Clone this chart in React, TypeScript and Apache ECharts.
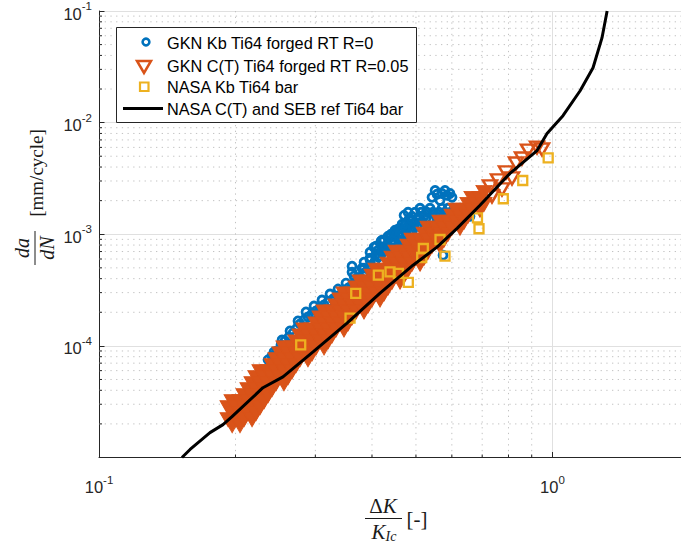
import React, { useEffect, useRef } from "react";
import * as echarts from "echarts";

const X_MIN = 0.1;
const X_MAX = 1.921;
const Y_MIN = 1e-5;
const Y_MAX = 1e-1;

const xTickLabelValues = [0.1, 1];
const yTickLabelValues = [1e-4, 1e-3, 1e-2, 1e-1];
const xMinorTicks = [0.2, 0.3, 0.4, 0.5, 0.6, 0.7, 0.8, 0.9];
const yMinorTicks = [
  2e-5, 3e-5, 4e-5, 5e-5, 6e-5, 7e-5, 8e-5, 9e-5,
  2e-4, 3e-4, 4e-4, 5e-4, 6e-4, 7e-4, 8e-4, 9e-4,
  2e-3, 3e-3, 4e-3, 5e-3, 6e-3, 7e-3, 8e-3, 9e-3,
  2e-2, 3e-2, 4e-2, 5e-2, 6e-2, 7e-2, 8e-2, 9e-2,
];

const legendLabels = [
  "GKN Kb Ti64 forged RT R=0",
  "GKN C(T) Ti64 forged RT R=0.05",
  "NASA Kb Ti64 bar",
  "NASA C(T) and SEB ref Ti64 bar",
];

// GKN Kb Ti64 forged RT R=0  [dK/KIc, da/dN]
const gknKb: number[][] = [
  [0.2359, 7.499e-5], [0.2407, 8.142e-5], [0.2469, 9.023e-5],
  [0.2520, 1.021e-4], [0.2571, 1.108e-4], [0.2624, 1.203e-4], [0.2679, 1.306e-4],
  [0.2734, 1.448e-4], [0.2775, 1.572e-4], [0.2832, 1.707e-4], [0.2890, 1.815e-4],
  [0.2950, 1.931e-4], [0.3010, 2.053e-4], [0.3072, 2.184e-4], [0.3135, 2.323e-4],
  [0.3199, 2.471e-4], [0.3282, 2.628e-4], [0.3366, 2.795e-4], [0.3452, 3.035e-4],
  [0.3541, 3.295e-4], [0.3615, 3.505e-4], [0.3689, 3.805e-4], [0.3764, 4.132e-4],
  [0.3841, 4.486e-4], [0.3920, 4.870e-4], [0.3980, 5.288e-4], [0.4062, 5.741e-4],
  [0.4124, 6.233e-4], [0.4209, 6.767e-4], [0.4296, 7.197e-4], [0.4384, 7.655e-4],
  [0.4474, 8.311e-4], [0.4566, 9.023e-4], [0.4659, 9.600e-4], [0.4755, 1.021e-3],
  [0.4852, 1.086e-3], [0.4951, 1.155e-3], [0.5053, 1.229e-3], [0.5157, 1.307e-3],
  [0.5263, 1.390e-3],
  [0.2432, 8.839e-5], [0.2533, 1.131e-4], [0.2638, 1.361e-4], [0.2747, 1.672e-4],
  [0.2861, 2.012e-4], [0.2980, 2.276e-4], [0.3103, 2.575e-4], [0.3232, 2.913e-4],
  [0.3366, 3.228e-4], [0.3505, 3.652e-4], [0.3651, 4.217e-4], [0.3802, 4.972e-4],
  [0.3960, 5.860e-4], [0.4124, 7.197e-4],
  [0.4041, 7.655e-4], [0.4188, 8.660e-4], [0.4340, 9.600e-4], [0.4497, 1.086e-3],
  [0.4659, 1.229e-3], [0.4827, 1.362e-3],
  [0.4252, 8.840e-4], [0.4406, 1.000e-3], [0.4566, 1.108e-3], [0.4731, 1.229e-3],
  [0.4167, 6.362e-4], [0.4384, 6.907e-4], [0.4612, 7.813e-4], [0.4852, 8.840e-4],
  [0.5053, 1.000e-3],
  [0.3614, 5.180e-4], [0.3614, 4.579e-4], [0.3841, 5.624e-4], [0.3841, 4.972e-4],
  [0.3960, 6.907e-4], [0.3960, 6.105e-4], [0.4082, 7.813e-4], [0.4082, 6.629e-4],
  [0.4209, 8.840e-4], [0.4209, 7.197e-4], [0.4340, 9.211e-4], [0.4340, 7.197e-4],
  [0.4474, 1.042e-3], [0.4474, 8.142e-4], [0.4612, 1.131e-3], [0.4612, 8.840e-4],
  [0.4755, 1.229e-3], [0.4755, 9.600e-4], [0.4902, 1.334e-3], [0.4902, 1.042e-3],
  [0.5053, 1.390e-3],
  [0.4612, 1.042e-3], [0.4731, 1.131e-3], [0.4977, 1.280e-3], [0.4429, 8.840e-4],
  [0.4274, 7.813e-4],
  [0.4707, 1.478e-3], [0.4804, 1.574e-3],
  [0.4977, 1.574e-3], [0.5131, 1.574e-3], [0.5290, 1.574e-3], [0.5453, 1.574e-3],
  [0.5621, 1.574e-3], [0.5795, 1.574e-3], [0.5974, 1.574e-3], [0.6159, 1.574e-3],
  [0.6350, 1.574e-3], [0.6513, 1.542e-3],
  [0.4902, 1.448e-3], [0.5210, 1.448e-3], [0.5538, 1.448e-3], [0.5885, 1.448e-3],
  [0.6254, 1.448e-3], [0.6580, 1.448e-3],
  [0.5105, 1.709e-3], [0.5370, 1.709e-3], [0.5708, 1.709e-3], [0.5884, 1.709e-3],
  [0.6066, 1.709e-3], [0.6254, 1.709e-3], [0.6446, 1.709e-3],
  [0.5425, 2.14e-3], [0.5564, 2.28e-3], [0.5708, 2.32e-3], [0.5855, 2.23e-3],
  [0.6005, 2.14e-3], [0.5650, 2.01e-3], [0.5510, 2.471e-3], [0.5795, 2.471e-3],
  [0.5944, 2.32e-3],
  [0.5737, 6.50e-4], [0.5564, 1.334e-3], [0.5795, 1.276e-3], [0.4612, 8.31e-4],
  [0.4803, 8.84e-4], [0.4429, 7.20e-4], [0.3861, 2.319e-4], [0.4000, 2.678e-4],
];

// GKN C(T) Ti64 forged RT R=0.05: dense part, one entry per dK/KIc with its da/dN readings
const gknCTColumns: [number, number[]][] = [
  [0.1926, [2.795e-5, 2.184e-5]],
  [0.1966, [3.162e-5, 2.471e-5, 1.931e-5]],
  [0.2005, [2.795e-5, 2.184e-5]],
  [0.2046, [3.162e-5, 2.471e-5, 1.931e-5]],
  [0.2088, [3.578e-5, 2.795e-5, 2.184e-5]],
  [0.2131, [4.047e-5, 3.162e-5, 2.471e-5]],
  [0.2175, [4.578e-5, 3.578e-5, 2.795e-5, 2.184e-5]],
  [0.2219, [5.179e-5, 4.047e-5, 3.162e-5, 2.471e-5]],
  [0.2265, [5.860e-5, 4.578e-5, 3.578e-5, 2.795e-5]],
  [0.2312, [5.179e-5, 4.047e-5, 3.162e-5]],
  [0.2359, [5.860e-5, 4.578e-5, 3.578e-5]],
  [0.2407, [6.629e-5, 5.179e-5, 4.047e-5]],
  [0.2457, [7.499e-5, 5.860e-5, 4.578e-5]],
  [0.2507, [8.483e-5, 6.629e-5, 5.179e-5]],
  [0.2558, [9.597e-5, 7.499e-5, 5.860e-5, 4.578e-5]],
  [0.2611, [8.483e-5, 6.629e-5, 5.179e-5]],
  [0.2665, [9.597e-5, 7.499e-5, 5.860e-5]],
  [0.2719, [1.086e-4, 8.483e-5, 6.629e-5]],
  [0.2775, [1.228e-4, 9.597e-5, 7.499e-5]],
  [0.2832, [1.389e-4, 1.086e-4, 8.483e-5]],
  [0.2890, [1.228e-4, 9.597e-5, 7.499e-5]],
  [0.2950, [1.389e-4, 1.086e-4, 8.483e-5]],
  [0.3010, [1.572e-4, 1.228e-4, 9.597e-5]],
  [0.3072, [1.778e-4, 1.389e-4, 1.086e-4]],
  [0.3135, [2.012e-4, 1.572e-4, 1.228e-4, 9.597e-5]],
  [0.3199, [1.778e-4, 1.389e-4, 1.086e-4]],
  [0.3265, [2.012e-4, 1.572e-4, 1.228e-4]],
  [0.3332, [2.276e-4, 1.778e-4, 1.389e-4]],
  [0.3400, [2.575e-4, 2.012e-4, 1.572e-4]],
  [0.3470, [2.913e-4, 2.276e-4, 1.778e-4, 1.389e-4]],
  [0.3541, [2.575e-4, 2.012e-4, 1.572e-4]],
  [0.3614, [2.913e-4, 2.276e-4, 1.778e-4]],
  [0.3689, [3.295e-4, 2.575e-4, 2.012e-4]],
  [0.3764, [3.728e-4, 2.913e-4, 2.276e-4]],
  [0.3841, [3.295e-4, 2.575e-4, 2.012e-4]],
  [0.3920, [3.728e-4, 2.913e-4, 2.276e-4]],
  [0.4000, [4.217e-4, 3.295e-4, 2.575e-4]],
  [0.4082, [4.771e-4, 3.728e-4, 2.913e-4]],
  [0.4167, [4.217e-4, 3.295e-4, 2.575e-4]],
  [0.4252, [4.771e-4, 3.728e-4, 2.913e-4]],
  [0.4340, [5.397e-4, 4.217e-4, 3.295e-4]],
  [0.4429, [6.105e-4, 4.771e-4, 3.728e-4]],
  [0.4520, [6.907e-4, 5.397e-4, 4.217e-4]],
  [0.4612, [6.105e-4, 4.771e-4, 3.728e-4]],
  [0.4707, [6.907e-4, 5.397e-4, 4.217e-4]],
  [0.4804, [7.813e-4, 6.105e-4, 4.771e-4]],
  [0.4902, [8.840e-4, 6.907e-4, 5.397e-4]],
  [0.5003, [7.813e-4, 6.105e-4]],
  [0.5105, [8.840e-4, 6.907e-4, 5.397e-4]],
  [0.5210, [1.000e-3, 7.813e-4, 6.105e-4]],
  [0.5317, [1.131e-3, 8.840e-4, 6.907e-4]],
  [0.5426, [1.000e-3, 7.813e-4]],
  [0.5538, [1.131e-3, 8.840e-4]],
  [0.5650, [1.280e-3, 1.000e-3, 7.813e-4]],
  [0.5766, [1.131e-3, 8.840e-4]],
  [0.5885, [1.280e-3, 1.000e-3]],
  [0.6005, [1.448e-3, 1.131e-3]],
  [0.6129, [1.638e-3, 1.280e-3]],
  [0.6254, [1.448e-3, 1.131e-3]],
  [0.6383, [1.638e-3, 1.280e-3]],
  [0.6513, [1.853e-3, 1.448e-3]],
  [0.6647, [2.096e-3, 1.638e-3]],
  [0.6783, [1.853e-3]],
  [0.6922, [2.096e-3, 1.638e-3]],
  [0.7064, [2.371e-3, 1.853e-3]],
];

// GKN C(T) upper end, individual markers
const gknCTUpper: number[][] = [
  [0.7283, 2.683e-3], [0.7357, 2.184e-3], [0.7585, 3.035e-3], [0.7740, 2.522e-3],
  [0.7899, 3.578e-3], [0.8144, 3.163e-3], [0.8311, 4.304e-3], [0.8569, 4.771e-3],
  [0.8833, 5.623e-3], [0.9247, 5.982e-3], [0.9485, 5.741e-3],
];

// NASA Kb Ti64 bar
const nasaKb: number[][] = [
  [0.2785, 1.02e-4], [0.3578, 1.77e-4], [0.3683, 2.95e-4], [0.4131, 4.30e-4],
  [0.4384, 4.61e-4], [0.4573, 4.46e-4], [0.4810, 3.71e-4], [0.5191, 7.45e-4],
  [0.5149, 6.19e-4], [0.5650, 8.97e-4], [0.5795, 6.37e-4], [0.6834, 1.40e-3],
  [0.6887, 1.12e-3], [0.7791, 2.08e-3], [0.8600, 3.03e-3], [0.9786, 4.84e-3],
];

// NASA C(T) and SEB reference curve
const nasaRef: number[][] = [
  [0.1524, 1.0e-5], [0.1588, 1.18e-5], [0.1757, 1.67e-5], [0.1877, 1.97e-5],
  [0.1965, 2.32e-5], [0.2299, 4.22e-5], [0.2545, 5.28e-5], [0.2965, 8.83e-5],
  [0.3524, 1.60e-4], [0.4167, 2.97e-4], [0.4927, 5.28e-4], [0.5565, 7.66e-4],
  [0.6162, 1.13e-3], [0.6923, 1.82e-3], [0.8062, 3.51e-3], [0.9248, 5.62e-3],
  [0.9729, 7.98e-3], [1.055, 1.155e-2], [1.151, 1.93e-2], [1.229, 3.10e-2],
  [1.286, 5.74e-2], [1.320, 0.1],
];

const gknCT: number[][] = gknCTColumns.flatMap(([dk, rates]) => rates.map((r) => [dk, r]));

const BLUE = "#0072BD";
const ORANGE = "#D95319";
const YELLOW = "#EDB120";
const AXIS = "#262626";
const TEXT = "#1a1a1a";
const SANS = "'Liberation Sans', Arial, Helvetica, sans-serif";
const SERIF = "'Liberation Serif', 'Times New Roman', serif";

const powLabel = (allowed: number[]) => (v: number) => {
  const hit = allowed.find((a) => Math.abs(Math.log10(a) - Math.log10(v)) < 1e-6);
  if (hit === undefined) return "";
  return `{b|10}{s|${Math.round(Math.log10(hit))}}`;
};

const tickRich = {
  b: { fontSize: 16.5, fontFamily: SANS, color: AXIS, lineHeight: 22, verticalAlign: "bottom" },
  s: { fontSize: 11.5, fontFamily: SANS, color: AXIS, lineHeight: 11, verticalAlign: "top" },
};

export default function App() {
  const ref = useRef<HTMLDivElement>(null);
  useEffect(() => {
    if (!ref.current) return;
    const chart = echarts.init(ref.current, undefined, { renderer: "svg" });
    const option: any = {
      animation: false,
      backgroundColor: "#ffffff",
      grid: { left: 99, top: 10, right: 0, height: 447.5, containLabel: false },
      xAxis: {
        type: "log",
        logBase: 10,
        min: X_MIN,
        max: X_MAX,
        axisLine: { show: true, onZero: false, lineStyle: { color: AXIS, width: 1 } },
        axisTick: { show: true, inside: true, length: 5.5, lineStyle: { color: AXIS, width: 1 } },
        axisLabel: { formatter: powLabel(xTickLabelValues), rich: tickRich, margin: 16, showMaxLabel: false },
        splitLine: { show: true, lineStyle: { color: "#e0e0e0", width: 1 } },
      },
      yAxis: {
        type: "log",
        logBase: 10,
        min: Y_MIN,
        max: Y_MAX,
        splitNumber: 4,
        axisLine: { show: true, onZero: false, lineStyle: { color: AXIS, width: 1 } },
        axisTick: { show: true, inside: true, length: 5.5, lineStyle: { color: AXIS, width: 1 } },
        axisLabel: { formatter: powLabel(yTickLabelValues), rich: tickRich, margin: 7 },
        splitLine: { show: true, lineStyle: { color: "#e0e0e0", width: 1 } },
      },
      series: [
        {
          type: "custom",
          silent: true,
          z: 1,
          data: yMinorTicks.map((v) => [X_MIN, v]),
          renderItem: (params: any, api: any) => {
            const p = api.coord([X_MIN, api.value(1)]);
            const cs = params.coordSys;
            return {
              type: "group",
              children: [
                { type: "line", shape: { x1: cs.x, y1: p[1], x2: cs.x + cs.width, y2: p[1] },
                  style: { stroke: "#c2c2c2", lineWidth: 1, lineDash: [1.3, 4.4] } },
                { type: "line", shape: { x1: cs.x, y1: p[1], x2: cs.x + 3, y2: p[1] },
                  style: { stroke: AXIS, lineWidth: 1 } },
              ],
            };
          },
        },
        {
          type: "custom",
          silent: true,
          z: 1,
          data: xMinorTicks.map((v) => [v, Y_MIN]),
          renderItem: (params: any, api: any) => {
            const p = api.coord([api.value(0), Y_MIN]);
            const cs = params.coordSys;
            return {
              type: "group",
              children: [
                { type: "line", shape: { x1: p[0], y1: cs.y, x2: p[0], y2: cs.y + cs.height },
                  style: { stroke: "#c2c2c2", lineWidth: 1, lineDash: [1.3, 4.4] } },
                { type: "line", shape: { x1: p[0], y1: cs.y + cs.height, x2: p[0], y2: cs.y + cs.height - 3 },
                  style: { stroke: AXIS, lineWidth: 1 } },
              ],
            };
          },
        },
        {
          name: legendLabels[0],
          type: "scatter",
          silent: true,
          z: 2,
          data: gknKb,
          symbol: "circle",
          symbolSize: 8,
          itemStyle: { color: "rgba(0,0,0,0)", borderColor: BLUE, borderWidth: 2.8, opacity: 1 },
        },
        {
          name: legendLabels[1],
          type: "scatter",
          silent: true,
          z: 3,
          data: gknCT,
          symbol: "triangle",
          symbolRotate: 180,
          symbolSize: [16, 14],
          itemStyle: { color: ORANGE, borderColor: ORANGE, borderWidth: 1, opacity: 1 },
        },
        {
          name: legendLabels[1],
          type: "scatter",
          silent: true,
          z: 3,
          data: gknCTUpper,
          symbol: "triangle",
          symbolRotate: 180,
          symbolSize: [14, 12],
          itemStyle: { color: "rgba(0,0,0,0)", borderColor: ORANGE, borderWidth: 2.5, opacity: 1 },
        },
        {
          name: legendLabels[2],
          type: "scatter",
          silent: true,
          z: 4,
          data: nasaKb,
          symbol: "rect",
          symbolSize: 9,
          itemStyle: { color: "rgba(0,0,0,0)", borderColor: YELLOW, borderWidth: 2.3, opacity: 1 },
        },
        {
          name: legendLabels[3],
          type: "line",
          silent: true,
          z: 5,
          data: nasaRef,
          symbol: "none",
          lineStyle: { color: "#000000", width: 3 },
        },
      ],
      graphic: [
        { type: "rect", z: 100, shape: { x: 116.5, y: 27.5, width: 300, height: 95 },
          style: { fill: "#ffffff", stroke: AXIS, lineWidth: 1 } },
        { type: "circle", z: 101, shape: { cx: 146, cy: 42, r: 3.4 },
          style: { fill: "none", stroke: BLUE, lineWidth: 2.6 } },
        { type: "polygon", z: 101, shape: { points: [[137, 61], [151, 61], [144, 73]] },
          style: { fill: "none", stroke: ORANGE, lineWidth: 2.5 } },
        { type: "rect", z: 101, shape: { x: 140, y: 82.5, width: 8.5, height: 8.5 },
          style: { fill: "none", stroke: YELLOW, lineWidth: 2.2 } },
        { type: "line", z: 101, shape: { x1: 123, y1: 108.5, x2: 163, y2: 108.5 },
          style: { stroke: "#000000", lineWidth: 3 } },
        ...legendLabels.map((t, i) => ({
          type: "text", z: 101, x: 167, y: [43, 65.5, 87, 108.5][i],
          style: { text: t, fontSize: 16.3, fontFamily: SANS, fill: "#000000", align: "left", verticalAlign: "middle" },
        })),
        // x-axis label: dK / KIc [-]
        { type: "text", z: 50, x: 383, y: 506,
          style: { text: "{r|Δ}{i|K}", align: "center", verticalAlign: "middle", fill: TEXT,
            rich: { r: { fontFamily: SERIF, fontSize: 21, fill: TEXT },
                    i: { fontFamily: SERIF, fontSize: 21, fontStyle: "italic", fill: TEXT } } } },
        { type: "line", z: 50, shape: { x1: 365, y1: 518.5, x2: 402, y2: 518.5 },
          style: { stroke: TEXT, lineWidth: 1 } },
        { type: "text", z: 50, x: 384, y: 532,
          style: { text: "{i|K}{s|Ic}", align: "center", verticalAlign: "middle", fill: TEXT,
            rich: { i: { fontFamily: SERIF, fontSize: 21, fontStyle: "italic", lineHeight: 22, verticalAlign: "top", fill: TEXT },
                    s: { fontFamily: SERIF, fontSize: 14, fontStyle: "italic", lineHeight: 13, verticalAlign: "bottom", fill: TEXT } } } },
        { type: "text", z: 50, x: 417, y: 519,
          style: { text: "[-]", fontFamily: SERIF, fontSize: 21, fill: TEXT, align: "center", verticalAlign: "middle" } },
        // y-axis label: da/dN [mm/cycle]
        { type: "group", z: 50, x: 35, y: 200, rotation: Math.PI / 2,
          children: [
            { type: "text", x: -48, y: -13,
              style: { text: "da", fontFamily: SERIF, fontSize: 20, fontStyle: "italic", fill: TEXT, align: "center", verticalAlign: "middle" } },
            { type: "line", shape: { x1: -65, y1: 0, x2: -31, y2: 0 }, style: { stroke: TEXT, lineWidth: 1 } },
            { type: "text", x: -48, y: 12,
              style: { text: "dN", fontFamily: SERIF, fontSize: 20, fontStyle: "italic", fill: TEXT, align: "center", verticalAlign: "middle" } },
            { type: "text", x: 27, y: 1,
              style: { text: "[mm/cycle]", fontFamily: SERIF, fontSize: 19, fill: TEXT, align: "center", verticalAlign: "middle" } },
          ] },
      ],
    };
    chart.setOption(option);
    return () => chart.dispose();
  }, []);
  return (
    <div
      ref={ref}
      style={{ position: "fixed", left: 0, top: 0, width: 681, height: 545, background: "#fff" }}
    />
  );
}
